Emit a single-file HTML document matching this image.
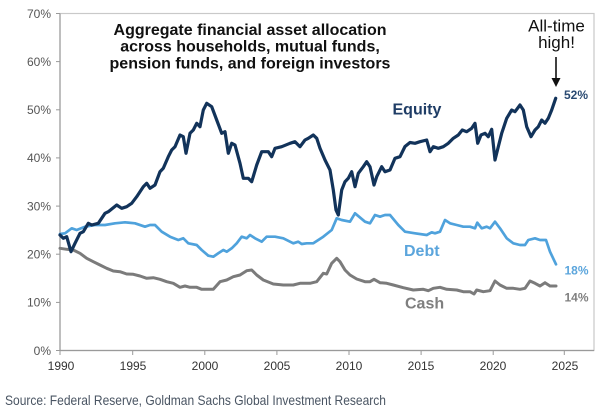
<!DOCTYPE html>
<html>
<head>
<meta charset="utf-8">
<style>
  html,body{margin:0;padding:0;background:#fff;}
  svg{display:block;}
  text{font-family:"Liberation Sans",Arial,sans-serif;}
</style>
</head>
<body>
<svg width="600" height="410" viewBox="0 0 600 410" xmlns="http://www.w3.org/2000/svg">
  <rect width="600" height="410" fill="#fff"/>
  <!-- plot frame -->
  <rect x="60" y="13.5" width="534" height="337" fill="none" stroke="#c9c9c9" stroke-width="1.2"/>
  <line x1="60" y1="13.5" x2="60" y2="351" stroke="#9a9a9a" stroke-width="1.2"/>
  <line x1="60" y1="350.5" x2="594" y2="350.5" stroke="#9a9a9a" stroke-width="1.2"/>
  <!-- y ticks -->
  <g stroke="#9a9a9a" stroke-width="1">
    <line x1="56" y1="13.5" x2="60" y2="13.5"/>
    <line x1="56" y1="61.6" x2="60" y2="61.6"/>
    <line x1="56" y1="109.8" x2="60" y2="109.8"/>
    <line x1="56" y1="157.9" x2="60" y2="157.9"/>
    <line x1="56" y1="206.1" x2="60" y2="206.1"/>
    <line x1="56" y1="254.2" x2="60" y2="254.2"/>
    <line x1="56" y1="302.4" x2="60" y2="302.4"/>
    <line x1="56" y1="350.5" x2="60" y2="350.5"/>
  </g>
  <!-- x ticks -->
  <g stroke="#9a9a9a" stroke-width="1">
    <line x1="60" y1="350.5" x2="60" y2="355"/>
    <line x1="132.7" y1="350.5" x2="132.7" y2="355"/>
    <line x1="204.8" y1="350.5" x2="204.8" y2="355"/>
    <line x1="276.9" y1="350.5" x2="276.9" y2="355"/>
    <line x1="349" y1="350.5" x2="349" y2="355"/>
    <line x1="421.1" y1="350.5" x2="421.1" y2="355"/>
    <line x1="493.2" y1="350.5" x2="493.2" y2="355"/>
    <line x1="564.3" y1="350.5" x2="564.3" y2="355"/>
  </g>
  <!-- y labels -->
  <g font-size="12" fill="#555" text-anchor="end">
    <text x="51" y="17.8">70%</text>
    <text x="51" y="65.9">60%</text>
    <text x="51" y="114.1">50%</text>
    <text x="51" y="162.2">40%</text>
    <text x="51" y="210.4">30%</text>
    <text x="51" y="258.5">20%</text>
    <text x="51" y="306.7">10%</text>
    <text x="51" y="354.8">0%</text>
  </g>
  <!-- x labels -->
  <g font-size="12" fill="#333" text-anchor="middle">
    <text x="61" y="370">1990</text>
    <text x="133" y="370">1995</text>
    <text x="205" y="370">2000</text>
    <text x="277" y="370">2005</text>
    <text x="349" y="370">2010</text>
    <text x="421" y="370">2015</text>
    <text x="493" y="370">2020</text>
    <text x="565" y="370">2025</text>
  </g>
  <!-- title -->
  <g font-size="16" font-weight="bold" fill="#111" text-anchor="middle">
    <text x="250" y="35">Aggregate financial asset allocation</text>
    <text x="250" y="51.7">across households, mutual funds,</text>
    <text x="250" y="68.3">pension funds, and foreign investors</text>
  </g>
  <!-- all-time high -->
  <g font-size="17" fill="#111" text-anchor="middle">
    <text x="556.5" y="31.5">All-time</text>
    <text x="556.5" y="48">high!</text>
  </g>
  <line x1="556" y1="57" x2="556" y2="80" stroke="#111" stroke-width="1.6"/>
  <polygon points="551.5,78 560.5,78 556,87" fill="#111"/>

  <!-- cash -->
  <polyline fill="none" stroke="#7b7b7b" stroke-width="3" stroke-linejoin="round" stroke-linecap="round"
    points="60,248.3 66.7,249.3 73.3,250 80,253.3 86.7,258.3 93.3,261.7 100,265 106.7,268.3 113.3,271 120,271.7 126.7,274 133.3,274.3 140,276 146.7,278.3 153.3,277.7 160,279.3 166.7,281.7 173.3,283.3 180,287.3 185,286 190,287.3 196.7,287.3 201.7,289.3 213.3,289.3 220,281.7 226.7,280 233.3,276.7 240,275 246.7,270.7 251.7,270 256.7,275 263.3,280 273.3,284 283.3,285 293.3,285 300,283.3 310,283.3 316.7,281.7 323.3,273.3 326.7,274 331.7,263.3 336.7,258.3 340,261.7 345,270 350,275 356.7,279 365,281.7 370,281.7 374,279.3 380,282.7 386.7,283.3 393.3,285 403.3,287.7 413.3,290 423.3,289.3 428.3,290.7 433.3,288.3 440,287.3 446.7,289.3 456.7,290 463.3,291.7 470,291.7 474,294 476.7,290 483.3,291.7 490,290.7 495,281 500,285 506.7,288.3 513.3,288.3 520,289.3 525,288.3 530,281 535,283.3 540,286 545,282.7 550,286 556,286"/>
  <!-- debt -->
  <polyline fill="none" stroke="#4fa2dc" stroke-width="2.7" stroke-linejoin="round" stroke-linecap="round"
    points="60,234 65,233.3 71.7,228.3 76.7,230 85,226.7 95,225 105,225 115,223.3 125,222.3 135,223.3 145,226.7 150,225 155,225 161.7,231.7 170,236.7 178.3,240 183.3,238.3 188.3,243.3 196.7,245 201.7,250 208.3,255.7 213.3,256.7 218.3,253.3 223.3,250 226.7,251.7 231.7,248.3 236.7,243.3 241.7,236.7 246.7,238.3 250,235 255,238.3 261.7,241.7 266.7,236.7 275,236.7 283.3,238.3 293.3,243.3 298.3,241.7 301.7,244 306.7,243.3 313.3,243.3 323.3,236.7 331.7,230 336.7,218.3 341.7,220 350,221.7 355,213.3 365,221.7 370,223.3 375,215 380,216.7 385,215 390,215 398.3,225 405,231.7 415,233.3 426.7,235 431.7,232.3 435,233.3 440,231.7 445,220 450,223.3 456.7,225 463.3,226.7 470,226.7 475,228.3 477.3,222.7 481.7,228.3 486.7,226.7 490,228.3 495,221.7 500,228.3 506.7,238.3 513.3,243.3 520,245 525,245 528.3,240 535,238.3 540,240 546,240 550,251.7 556,264.3"/>
  <!-- equity -->
  <polyline fill="none" stroke="#12335a" stroke-width="3.2" stroke-linejoin="round" stroke-linecap="round"
    points="60,235 63.3,238.3 66.7,236.7 71,251.7 75,243.3 80,233.3 83.3,231.7 88.3,223.3 91.7,225 98.3,223.3 105,213.3 108.3,211.7 116.7,205 121.7,208.3 126.7,206.7 131.7,203.3 136.7,196.7 143.3,186.7 146.7,183.3 150,188.3 155,185 160,171.7 163.3,168.3 168.3,156.7 171.7,150 175,146.7 180,135 183.3,136.7 186,153.3 190,133.3 193.3,130 196.7,123.3 200,126.7 203.3,110 206.7,103.3 211.7,106.7 216.7,120 221.7,133.3 225,131.7 228.3,153.3 231.7,143.3 235,145 240,163.3 243.3,178.3 248.3,178.3 251.7,181.7 256.7,165 261.7,151.7 268.3,151.7 271.7,156.7 275,148.3 281.7,146.7 290,143.3 295,141.7 300,146.7 305,140 308.3,138.3 313.3,135 316.7,138.3 320,148.3 325,160 330,170 333.3,190 336,210 338.3,215 341.7,190 345,181.7 348.3,178.3 351.7,171.7 355,186.7 358.3,173.3 363.3,166.7 366.7,161.7 370,166.7 374,185 376.7,176.7 381.7,166.7 385,171.7 390,170 395,158.3 400,156.7 405,146.5 410,142.5 415,143.3 420,141.7 426.7,140 430,151.7 433.3,146.7 438.3,148.3 443.3,146.7 448.3,143.3 453.3,138.3 458.3,135 462.3,130 466.7,131.7 471.7,128.3 475,123.3 477.7,143.3 481,135 485,133.3 488.3,136.7 491.7,129.3 495,160 498.3,146.7 501.7,133.3 506.7,118.3 511.7,110 515,111.7 520,105 523.3,110 526.7,126.7 531,136.7 535,130 538.3,126.7 541.7,120 545,123.3 548.3,118.3 551.7,110 555.7,98.3"/>

  <!-- series labels -->
  <text x="392.5" y="114.5" font-size="16" font-weight="bold" fill="#1f3d66">Equity</text>
  <text x="404" y="256" font-size="16" font-weight="bold" fill="#5ba5dc">Debt</text>
  <text x="405" y="308.5" font-size="16" font-weight="bold" fill="#7f7f7f">Cash</text>
  <text x="564" y="99" font-size="12" font-weight="bold" fill="#2a4a72">52%</text>
  <text x="564.5" y="274.5" font-size="12" font-weight="bold" fill="#5ba5dc">18%</text>
  <text x="564.5" y="301.5" font-size="12" font-weight="bold" fill="#7f7f7f">14%</text>

  <!-- source -->
  <text x="5" y="405" font-size="14" fill="#4a5563" textLength="381" lengthAdjust="spacingAndGlyphs">Source: Federal Reserve, Goldman Sachs Global Investment Research</text>
</svg>
</body>
</html>
